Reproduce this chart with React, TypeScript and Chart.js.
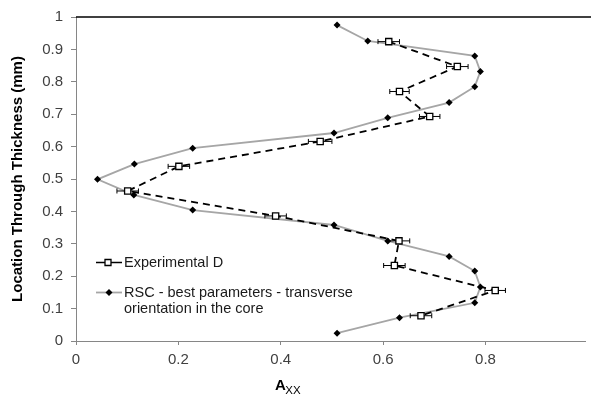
import React, { useEffect, useRef } from 'react';
import { Chart, registerables } from 'chart.js';

Chart.register(...registerables);

// Experimental D (open squares, dashed black line, horizontal error bars)
const expLocation = [0.924, 0.847, 0.770, 0.693, 0.616, 0.539, 0.463, 0.386, 0.309, 0.233, 0.156, 0.078];
const expAxx = [0.611, 0.745, 0.632, 0.691, 0.477, 0.201, 0.101, 0.390, 0.631, 0.622, 0.819, 0.674];
const expAxxErr = [0.021, 0.021, 0.019, 0.020, 0.023, 0.021, 0.021, 0.021, 0.021, 0.021, 0.020, 0.021];

// RSC - best parameters (black diamonds, grey solid line)
const rscLocation = [0.975, 0.926, 0.880, 0.832, 0.785, 0.736, 0.689, 0.642, 0.595, 0.546, 0.499, 0.451, 0.404, 0.358, 0.309, 0.261, 0.216, 0.167, 0.118, 0.072, 0.024];
const rscAxx = [0.510, 0.570, 0.779, 0.790, 0.779, 0.729, 0.609, 0.504, 0.228, 0.114, 0.042, 0.113, 0.228, 0.504, 0.609, 0.729, 0.779, 0.790, 0.779, 0.632, 0.510];

const seriesLabels = ['Experimental D', 'RSC - best parameters - transverse orientation in the core'];
const yAxisTitle = 'Location Through Thickness (mm)';
const xTitleMain = 'A';
const xTitleSub = 'XX';

const FONT = "'Liberation Sans', Arial, sans-serif";
const GREY_LINE = '#a6a6a6';
const AXIS_GREY = '#868686';
const TICK_COLOR = '#404040';

function wrapText(ctx: CanvasRenderingContext2D, text: string, maxWidth: number): string[] {
  const words = text.split(' ');
  const lines: string[] = [];
  let cur = '';
  for (const w of words) {
    const test = cur ? cur + ' ' + w : w;
    if (ctx.measureText(test).width > maxWidth && cur) {
      lines.push(cur);
      cur = w;
    } else {
      cur = test;
    }
  }
  if (cur) lines.push(cur);
  return lines;
}

const fmt = (v: any) => String(Math.round(Number(v) * 10) / 10);

const errorBarPlugin = {
  id: 'errorBars',
  beforeDatasetDraw(chart: any, args: any) {
    if (args.index !== 0) return;
    const { ctx, scales } = chart;
    ctx.save();
    ctx.strokeStyle = '#000';
    ctx.lineWidth = 1;
    for (let i = 0; i < expAxx.length; i++) {
      const y = scales.y.getPixelForValue(expLocation[i]);
      const x1 = scales.x.getPixelForValue(expAxx[i] - expAxxErr[i]);
      const x2 = scales.x.getPixelForValue(expAxx[i] + expAxxErr[i]);
      ctx.beginPath();
      ctx.moveTo(x1, y);
      ctx.lineTo(x2, y);
      ctx.moveTo(x1, y - 2.5);
      ctx.lineTo(x1, y + 2.5);
      ctx.moveTo(x2, y - 2.5);
      ctx.lineTo(x2, y + 2.5);
      ctx.stroke();
    }
    ctx.restore();
  },
};

const decorPlugin = {
  id: 'decor',
  afterDraw(chart: any) {
    const { ctx, chartArea } = chart;
    ctx.save();
    // top border of plot area
    ctx.strokeStyle = '#000';
    ctx.lineWidth = 1.5;
    ctx.beginPath();
    ctx.moveTo(chartArea.left, chartArea.top);
    ctx.lineTo(chart.width, chartArea.top);
    ctx.stroke();

    // x axis title A_XX
    ctx.fillStyle = '#000';
    ctx.textBaseline = 'alphabetic';
    ctx.textAlign = 'left';
    ctx.font = `bold 15px ${FONT}`;
    ctx.fillText(xTitleMain, 275, 390);
    const aw = ctx.measureText(xTitleMain).width;
    ctx.font = `11.5px ${FONT}`;
    ctx.fillText(xTitleSub, 275 + aw - 0.5, 393.5);

    // legend
    const lx0 = 96;
    const lx1 = 122;
    const tx = 124;
    ctx.font = `14.5px ${FONT}`;
    ctx.fillStyle = '#1a1a1a';
    // item 1
    const y1 = 262.5;
    ctx.strokeStyle = '#000';
    ctx.lineWidth = 1.5;
    ctx.beginPath();
    ctx.moveTo(lx0, y1);
    ctx.lineTo(lx1, y1);
    ctx.stroke();
    ctx.fillStyle = '#fff';
    ctx.lineWidth = 1.3;
    ctx.beginPath();
    ctx.rect(108 - 3, y1 - 3, 6, 6);
    ctx.fill();
    ctx.stroke();
    ctx.fillStyle = '#1a1a1a';
    ctx.textBaseline = 'middle';
    ctx.fillText(seriesLabels[0], tx, y1);
    // item 2
    const y2 = 292.5;
    ctx.strokeStyle = GREY_LINE;
    ctx.lineWidth = 1.8;
    ctx.beginPath();
    ctx.moveTo(lx0, y2);
    ctx.lineTo(lx1, y2);
    ctx.stroke();
    ctx.fillStyle = '#000';
    ctx.beginPath();
    ctx.moveTo(109, y2 - 3.5);
    ctx.lineTo(112.5, y2);
    ctx.lineTo(109, y2 + 3.5);
    ctx.lineTo(105.5, y2);
    ctx.closePath();
    ctx.fill();
    ctx.fillStyle = '#1a1a1a';
    const lines = wrapText(ctx, seriesLabels[1], 245);
    lines.forEach((ln, i) => ctx.fillText(ln, tx, y2 + i * 16.5));
    ctx.restore();
  },
};

export default function App() {
  const ref = useRef<HTMLCanvasElement>(null);
  useEffect(() => {
    if (!ref.current) return;
    const chart = new Chart(ref.current, {
      type: 'scatter',
      data: {
        datasets: [
          {
            label: seriesLabels[0],
            data: expAxx.map((x, i) => ({ x, y: expLocation[i] })),
            showLine: true,
            borderColor: '#000',
            borderWidth: 1.8,
            borderDash: [7, 5],
            pointStyle: 'rect',
            pointRadius: 4.4,
            pointBackgroundColor: '#fff',
            pointBorderColor: '#000',
            pointBorderWidth: 1.3,
          },
          {
            label: seriesLabels[1],
            data: rscAxx.map((x, i) => ({ x, y: rscLocation[i] })),
            showLine: true,
            borderColor: GREY_LINE,
            borderWidth: 1.8,
            pointStyle: 'rectRot',
            pointRadius: 3.5,
            pointBackgroundColor: '#000',
            pointBorderColor: '#000',
            pointBorderWidth: 0,
          },
        ],
      },
      options: {
        responsive: false,
        animation: false,
        layout: { padding: { top: 15, left: 0, right: 0, bottom: 0 } },
        plugins: {
          legend: { display: false },
          tooltip: { enabled: false },
        },
        scales: {
          x: {
            type: 'linear',
            min: 0,
            max: 0.995,
            ticks: {
              stepSize: 0.2,
              includeBounds: false,
              color: TICK_COLOR,
              font: { family: FONT, size: 15 },
              padding: 6,
              maxRotation: 0,
              callback: fmt,
            },
            grid: { drawOnChartArea: false, drawTicks: true, tickLength: 4, color: AXIS_GREY },
            border: { color: AXIS_GREY, width: 1 },
            afterFit: (s: any) => { s.height = 53; },
          },
          y: {
            type: 'linear',
            min: 0,
            max: 1,
            ticks: {
              stepSize: 0.1,
              color: TICK_COLOR,
              font: { family: FONT, size: 15 },
              padding: 8,
              callback: fmt,
            },
            grid: { drawOnChartArea: false, drawTicks: true, tickLength: 5, color: AXIS_GREY },
            border: { color: AXIS_GREY, width: 1 },
            title: {
              display: true,
              text: yAxisTitle,
              color: '#000',
              font: { family: FONT, size: 15, weight: 'bold' },
              padding: { top: 9, bottom: 0 },
            },
            afterFit: (s: any) => { s.width = 76; },
          },
        },
      },
      plugins: [errorBarPlugin, decorPlugin],
    });
    return () => chart.destroy();
  }, []);
  return (
    <div style={{ position: 'fixed', left: 0, top: 0, width: 591, height: 394, background: '#fff' }}>
      <canvas ref={ref} width={591} height={394} style={{ display: 'block' }} />
    </div>
  );
}
